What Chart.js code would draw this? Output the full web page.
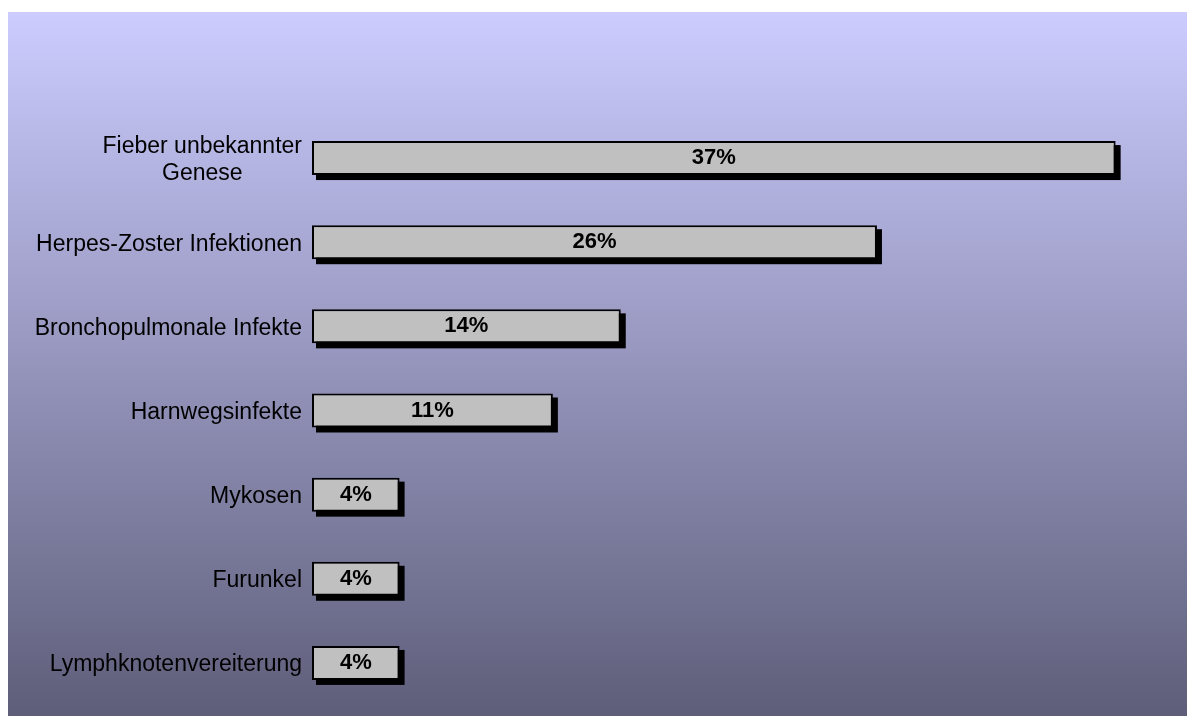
<!DOCTYPE html>
<html>
<head>
<meta charset="utf-8">
<title>Infektionen</title>
<script src="https://cdn.jsdelivr.net/npm/chart.js@4/dist/chart.umd.min.js"></script>
<style>
    html, body { margin: 0; padding: 0; background: #ffffff; overflow: hidden; }
    canvas { display: block; }
</style>
</head>
<body>
<canvas id="infektChart" width="1187" height="716"></canvas>
<script>
// Chart data
const categories = [
    ['Fieber unbekannter', 'Genese'],
    'Herpes-Zoster Infektionen',
    'Bronchopulmonale Infekte',
    'Harnwegsinfekte',
    'Mykosen',
    'Furunkel',
    'Lymphknotenvereiterung'
];
const shares = [36.7, 25.8, 14.1, 11.0, 4.0, 4.0, 4.0];
const shareLabels = ['37%', '26%', '14%', '11%', '4%', '4%', '4%'];

Chart.defaults.font.family = "'Liberation Sans', Arial, sans-serif";
Chart.defaults.color = '#000000';

// background gradient panel, bar shadows, labels
const decorPlugin = {
    id: 'decor',
    beforeDraw(chart) {
        const c = chart.ctx;
        c.save();
        c.fillStyle = '#ffffff';
        c.fillRect(0, 0, chart.width, chart.height);
        const grad = c.createLinearGradient(0, 12, 0, chart.height);
        grad.addColorStop(0, '#ccccff');
        grad.addColorStop(1, '#5e5e7a');
        c.fillStyle = grad;
        c.fillRect(8, 12, chart.width - 8, chart.height - 12);
        c.restore();
    },
    beforeDatasetsDraw(chart) {
        // hard black drop shadow behind each bar
        const c = chart.ctx;
        const meta = chart.getDatasetMeta(0);
        c.save();
        c.fillStyle = '#000000';
        meta.data.forEach(bar => {
            const top = bar.y - bar.height / 2;
            c.fillRect(bar.base + 4, top + 4, bar.x - bar.base + 1, bar.height + 1);
        });
        c.restore();
    },
    afterDatasetsDraw(chart) {
        const c = chart.ctx;
        const meta = chart.getDatasetMeta(0);
        c.save();
        c.font = "bold 22px 'Liberation Sans', Arial, sans-serif";
        c.fillStyle = '#000000';
        c.textAlign = 'center';
        c.textBaseline = 'middle';
        meta.data.forEach((bar, i) => {
            c.fillText(shareLabels[i], (bar.base + bar.x) / 2, bar.y);
        });

        // category labels: block right aligned, lines centred (like Excel)
        const yScale = chart.scales.y;
        const right = chart.chartArea.left - 10;
        const lineH = 27;
        c.font = "23px 'Liberation Sans', Arial, sans-serif";
        c.fillStyle = '#000000';
        categories.forEach((label, i) => {
            const lines = Array.isArray(label) ? label : [label];
            const maxW = Math.max(...lines.map(l => c.measureText(l).width));
            const cy = yScale.getPixelForValue(i) + 2;
            const startY = cy - (lines.length - 1) * lineH / 2;
            lines.forEach((line, j) => {
                if (lines.length > 1) {
                    c.textAlign = 'center';
                    c.fillText(line, right - maxW / 2, startY + j * lineH);
                } else {
                    c.textAlign = 'right';
                    c.fillText(line, right, startY + j * lineH);
                }
            });
        });
        c.restore();
    }
};

document.addEventListener('DOMContentLoaded', function () {
    const ctx = document.getElementById('infektChart');

    new Chart(ctx, {
        type: 'bar',
        data: {
            labels: categories,
            datasets: [{
                data: shares,
                backgroundColor: '#c0c0c0',
                borderColor: '#000000',
                borderWidth: 2,
                borderSkipped: false,
                barPercentage: 0.404,
                categoryPercentage: 1.0
            }]
        },
        options: {
            indexAxis: 'y',
            responsive: false,
            animation: false,
            layout: {
                padding: { left: 312, right: 21, top: 116, bottom: 11 }
            },
            scales: {
                x: { display: false, min: 0, max: 39 },
                y: { display: false }
            },
            plugins: {
                legend: { display: false },
                tooltip: { enabled: false }
            }
        },
        plugins: [decorPlugin]
    });
});
</script>
</body>
</html>
